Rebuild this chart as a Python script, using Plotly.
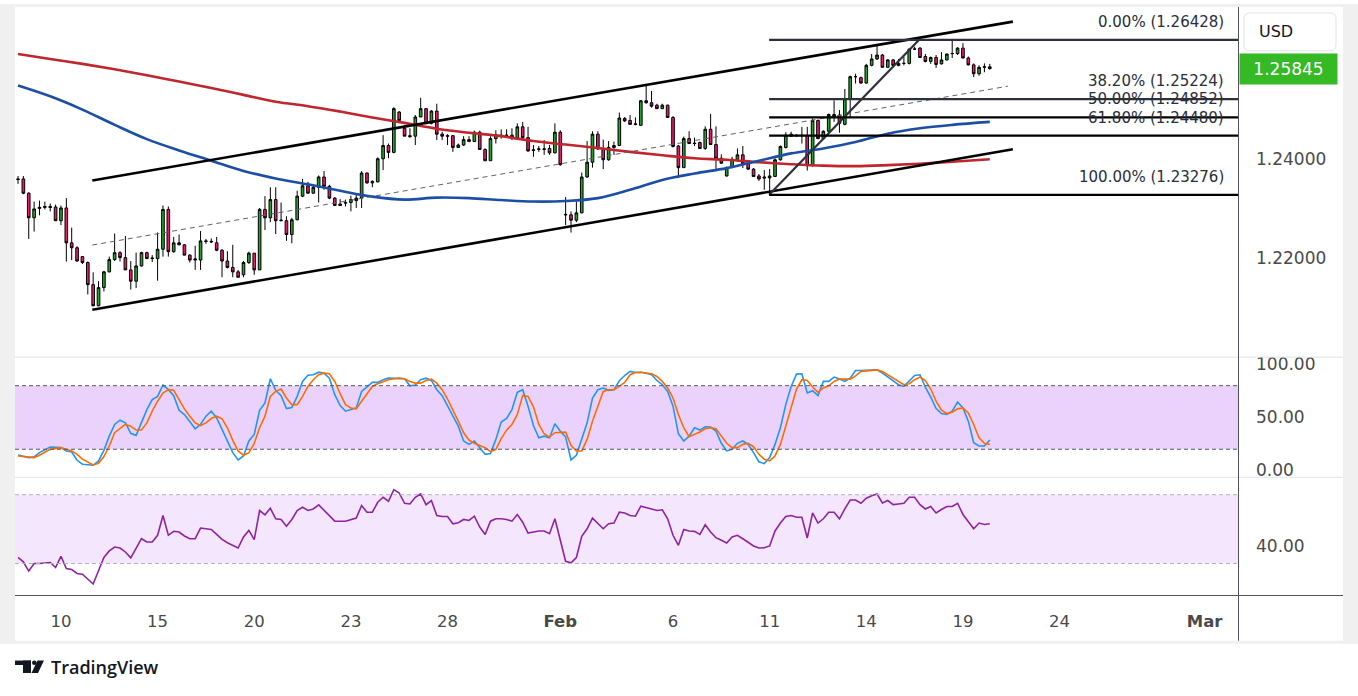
import plotly.graph_objects as go

# ---------------- data (4H candles, index 0 = first visible candle) ----------------
candle_open = [1.2360,1.2360,1.2331,1.2281,1.2300,1.2302,1.2304,1.2303,1.2275,1.2301,
1.2230,1.2220,1.2202,1.2190,1.2145,1.2102,1.2139,1.2171,1.2196,1.2210,
1.2200,1.2175,1.2152,1.2183,1.2210,1.2198,1.2198,1.2217,1.2298,1.2212,
1.2230,1.2226,1.2205,1.2195,1.2195,1.2234,1.2233,1.2230,1.2215,1.2193,
1.2180,1.2171,1.2165,1.2190,1.2209,1.2175,1.2298,1.2281,1.2318,1.2275,
1.2275,1.2247,1.2277,1.2325,1.2346,1.2331,1.2343,1.2364,1.2345,1.2321,
1.2309,1.2312,1.2312,1.2316,1.2321,1.2372,1.2352,1.2354,1.2401,1.2428,
1.2414,1.2496,1.2463,1.2448,1.2447,1.2486,1.2503,1.2473,1.2498,1.2451,
1.2448,1.2448,1.2424,1.2429,1.2440,1.2436,1.2455,1.2420,1.2397,1.2442,
1.2449,1.2448,1.2449,1.2444,1.2466,1.2444,1.2418,1.2420,1.2420,1.2422,
1.2413,1.2455,1.2288,1.2287,1.2276,1.2291,1.2364,1.2394,1.2451,1.2422,
1.2399,1.2424,1.2428,1.2483,1.2479,1.2472,1.2469,1.2519,1.2515,1.2510,
1.2503,1.2510,1.2485,1.2427,1.2383,1.2442,1.2433,1.2434,1.2422,1.2461,
1.2430,1.2402,1.2366,1.2383,1.2400,1.2409,1.2391,1.2380,1.2366,1.2364,
1.2362,1.2365,1.2399,1.2424,1.2447,1.2449,1.2449,1.2449,1.2387,1.2479,
1.2442,1.2457,1.2486,1.2490,1.2471,1.2523,1.2568,1.2566,1.2555,1.2591,
1.2604,1.2612,1.2587,1.2602,1.2591,1.2595,1.2595,1.2624,1.2626,1.2609,
1.2599,1.2607,1.2594,1.2602,1.2615,1.2615,1.2626,1.2606,1.2592,1.2574,
1.2587,1.2588]
candle_high = [1.2366,1.2366,1.2333,1.2314,1.2316,1.2314,1.2310,1.2308,1.2306,1.2321,
1.2261,1.2223,1.2203,1.2192,1.2170,1.2152,1.2173,1.2202,1.2249,1.2213,
1.2244,1.2193,1.2210,1.2212,1.2212,1.2205,1.2251,1.2306,1.2304,1.2242,
1.2247,1.2227,1.2207,1.2224,1.2254,1.2238,1.2239,1.2242,1.2217,1.2213,
1.2226,1.2175,1.2193,1.2212,1.2209,1.2301,1.2325,1.2343,1.2343,1.2312,
1.2284,1.2281,1.2336,1.2360,1.2354,1.2348,1.2367,1.2376,1.2348,1.2323,
1.2319,1.2318,1.2326,1.2328,1.2376,1.2373,1.2357,1.2404,1.2449,1.2432,
1.2506,1.2498,1.2469,1.2463,1.2490,1.2525,1.2504,1.2500,1.2513,1.2456,
1.2451,1.2449,1.2432,1.2447,1.2447,1.2458,1.2458,1.2422,1.2447,1.2459,
1.2461,1.2461,1.2463,1.2473,1.2476,1.2466,1.2429,1.2427,1.2439,1.2429,
1.2473,1.2459,1.2323,1.2294,1.2314,1.2373,1.2437,1.2457,1.2457,1.2440,
1.2437,1.2436,1.2495,1.2486,1.2490,1.2485,1.2520,1.2552,1.2539,1.2513,
1.2513,1.2511,1.2488,1.2429,1.2446,1.2457,1.2444,1.2436,1.2467,1.2492,
1.2467,1.2410,1.2385,1.2405,1.2422,1.2427,1.2395,1.2382,1.2370,1.2378,
1.2380,1.2402,1.2428,1.2455,1.2456,1.2451,1.2466,1.2466,1.2483,1.2481,
1.2459,1.2493,1.2520,1.2500,1.2543,1.2570,1.2574,1.2568,1.2594,1.2614,
1.2631,1.2614,1.2604,1.2604,1.2604,1.2609,1.2626,1.2629,1.2628,1.2614,
1.2609,1.2612,1.2618,1.2615,1.2641,1.2628,1.2636,1.2609,1.2595,1.2591,
1.2595,1.2594]
candle_low = [1.2350,1.2329,1.2238,1.2253,1.2286,1.2298,1.2294,1.2275,1.2266,1.2192,
1.2195,1.2192,1.2187,1.2125,1.2101,1.2101,1.2131,1.2170,1.2193,1.2192,
1.2175,1.2135,1.2138,1.2182,1.2197,1.2191,1.2153,1.2202,1.2202,1.2210,
1.2225,1.2205,1.2190,1.2175,1.2175,1.2228,1.2230,1.2213,1.2160,1.2178,
1.2160,1.2160,1.2160,1.2187,1.2165,1.2175,1.2256,1.2272,1.2248,1.2274,
1.2234,1.2229,1.2276,1.2323,1.2330,1.2330,1.2312,1.2338,1.2319,1.2306,
1.2306,1.2304,1.2294,1.2301,1.2301,1.2350,1.2343,1.2353,1.2378,1.2402,
1.2412,1.2479,1.2447,1.2444,1.2429,1.2486,1.2471,1.2471,1.2439,1.2439,
1.2429,1.2415,1.2424,1.2427,1.2436,1.2435,1.2419,1.2397,1.2397,1.2432,
1.2442,1.2444,1.2439,1.2439,1.2439,1.2415,1.2405,1.2415,1.2409,1.2409,
1.2412,1.2387,1.2266,1.2251,1.2272,1.2290,1.2362,1.2383,1.2419,1.2380,
1.2397,1.2409,1.2427,1.2476,1.2471,1.2469,1.2468,1.2513,1.2505,1.2503,
1.2502,1.2485,1.2424,1.2362,1.2383,1.2432,1.2427,1.2421,1.2419,1.2429,
1.2378,1.2391,1.2365,1.2382,1.2395,1.2382,1.2378,1.2365,1.2356,1.2338,
1.2328,1.2364,1.2397,1.2422,1.2446,1.2446,1.2432,1.2377,1.2385,1.2441,
1.2440,1.2454,1.2476,1.2454,1.2469,1.2486,1.2554,1.2554,1.2554,1.2589,
1.2602,1.2587,1.2587,1.2589,1.2589,1.2591,1.2593,1.2622,1.2606,1.2597,
1.2594,1.2586,1.2593,1.2601,1.2606,1.2612,1.2605,1.2591,1.2567,1.2570,
1.2577,1.2582]
candle_close = [1.2359,1.2331,1.2281,1.2299,1.2302,1.2304,1.2302,1.2275,1.2301,1.2230,
1.2220,1.2193,1.2190,1.2145,1.2102,1.2139,1.2171,1.2196,1.2210,1.2200,
1.2175,1.2152,1.2183,1.2210,1.2198,1.2199,1.2217,1.2298,1.2212,1.2230,
1.2226,1.2205,1.2195,1.2197,1.2234,1.2233,1.2232,1.2215,1.2193,1.2180,
1.2171,1.2160,1.2190,1.2209,1.2175,1.2298,1.2281,1.2318,1.2275,1.2276,
1.2247,1.2277,1.2325,1.2346,1.2331,1.2343,1.2364,1.2345,1.2321,1.2306,
1.2306,1.2311,1.2318,1.2321,1.2372,1.2352,1.2355,1.2401,1.2428,1.2414,
1.2503,1.2479,1.2447,1.2446,1.2486,1.2503,1.2473,1.2498,1.2451,1.2447,
1.2447,1.2424,1.2429,1.2440,1.2436,1.2455,1.2420,1.2397,1.2442,1.2450,
1.2448,1.2449,1.2444,1.2466,1.2444,1.2417,1.2419,1.2421,1.2421,1.2413,
1.2455,1.2389,1.2287,1.2276,1.2291,1.2364,1.2394,1.2451,1.2421,1.2399,
1.2424,1.2428,1.2484,1.2478,1.2471,1.2471,1.2519,1.2515,1.2508,1.2503,
1.2510,1.2485,1.2426,1.2383,1.2442,1.2432,1.2432,1.2422,1.2461,1.2430,
1.2402,1.2392,1.2383,1.2400,1.2409,1.2391,1.2380,1.2365,1.2360,1.2362,
1.2366,1.2399,1.2426,1.2449,1.2451,1.2448,1.2448,1.2387,1.2479,1.2442,
1.2457,1.2491,1.2491,1.2473,1.2523,1.2568,1.2568,1.2555,1.2591,1.2604,
1.2612,1.2587,1.2602,1.2591,1.2595,1.2595,1.2624,1.2624,1.2607,1.2599,
1.2607,1.2593,1.2602,1.2614,1.2615,1.2626,1.2606,1.2592,1.2574,1.2587,
1.2588,1.25845]

# moving averages, read every 6 candles
ma_idx = [0,6,12,18,24,30,36,42,48,54,60,66,72,78,84,90,96,102,108,114,120,126,132,138,144,150,156,162,168,174,181]
ma_red = [1.2614,1.2604,1.2594,1.2583,1.2571,1.2558,1.2545,1.2531,1.2517,1.2508,1.2497,1.2485,1.2474,1.2462,1.2454,1.2447,
          1.2437,1.2430,1.2423,1.2415,1.2408,1.2402,1.2399,1.2394,1.2390,1.2387,1.2386,1.2388,1.2391,1.2395,1.2400]
ma_blue = [1.2550,1.2528,1.2501,1.2470,1.2441,1.2418,1.2397,1.2376,1.2361,1.2349,1.2336,1.2324,1.2318,1.2322,1.2321,1.2317,
           1.2314,1.2315,1.2321,1.2338,1.2358,1.2371,1.2382,1.2397,1.2412,1.2422,1.2435,1.2452,1.2463,1.2470,1.2476]

# stochastic %K / %D and RSI vertices (candle index, value)
stoch_k_idx = [0,2,3,4,6,8,9,10,11,12,14,15,16,17,18,19,20,21,22,23,24,25,26,27,28,29,30,31,32,33,34,35,36,37,38,39,40,41,42,43,44,45,46,47,48,49,50,
 51,52,53,54,55,56,57,58,59,60,61,62,63,64,65,66,67,68,69,70,71,72,73,74,75,76,77,78,79,80,81,82,83,84,85,86,87,88,89,90,91,92,93,94,95,96,97,98,99,100,
 101,102,103,104,105,106,107,108,109,110,111,112,113,114,115,116,117,118,119,120,121,122,123,124,125,126,127,128,129,130,131,132,133,134,135,136,137,138,139,140,
 141,142,143,144,145,146,147,148,149,150,151,152,153,154,155,156,157,158,159,160,161,162,163,164,165,166,167,168,169,170,171,172,173,174,175,176,177,178,179,180,181]
stoch_k = [14.6,12.1,12.8,16.8,22.1,21.5,18.4,17.4,9.6,5.9,4.9,9.0,19.0,32.4,43.4,47.4,45.0,35.0,33.1,44.9,57.4,66.8,69.9,80.6,76.2,70.6,56.8,52.7,46.5,39.3,43.4,51.2,55.9,49.6,38.7,27.8,16.8,9.9,13.7,27.8,34.0,56.8,63.7,86.5,75.6,70.6,58.4,
 59.3,69.9,84.0,89.9,90.3,92.7,91.8,87.1,71.5,61.2,55.9,57.4,59.0,74.6,78.7,83.1,83.1,85.6,87.1,87.1,87.1,86.5,79.9,80.6,85.6,87.1,84.9,76.2,70.6,60.6,51.2,41.8,27.8,24.6,27.8,21.5,15.2,15.9,29.3,45.7,49.0,57.4,73.7,76.2,60.6,42.4,30.9,32.4,30.9,44.0,
 37.1,31.5,9.9,14.3,29.3,44.9,68.4,76.2,77.8,75.6,76.2,84.6,89.6,93.4,92.4,92.7,91.8,90.3,84.9,80.9,74.6,60.6,34.6,27.8,32.4,40.3,38.1,41.2,40.9,37.1,25.6,18.4,19.9,25.6,27.8,24.6,16.8,8.1,6.5,12.1,
 24.6,40.3,62.1,79.3,90.9,91.2,73.1,75.2,70.6,84.0,84.0,88.1,86.2,84.0,87.1,94.3,94.3,94.6,94.9,94.9,91.8,88.1,84.0,80.9,79.3,84.0,89.6,90.3,78.7,69.3,58.4,53.7,52.8,55.9,64.6,59.0,46.5,26.2,23.1,23.1,28.7]

stoch_d_idx = [0,1,3,4,6,8,9,10,11,12,14,15,16,17,18,20,21,22,23,24,25,26,27,28,29,30,31,32,33,34,35,36,37,38,39,40,41,42,43,44,45,46,47,48,49,50,
 51,52,53,54,55,56,57,58,59,60,61,62,63,64,65,66,67,68,69,70,71,72,73,74,75,76,77,78,79,80,81,82,83,84,85,86,87,88,89,90,91,92,93,94,95,96,97,98,99,100,
 101,102,103,104,105,106,107,108,109,110,111,112,113,114,115,116,117,118,119,120,121,122,123,124,125,126,127,128,129,130,131,132,133,134,135,136,137,138,139,140,
 141,142,143,144,145,146,147,148,149,150,151,152,153,154,155,156,157,158,159,160,161,162,163,164,165,166,167,168,169,170,171,172,173,174,175,176,177,178,179,180,181]
stoch_d = [13.7,13.1,12.1,14.3,19.9,21.5,19.9,18.4,15.2,10.6,5.2,6.8,13.1,23.1,35.6,43.4,41.8,38.1,38.1,44.9,55.9,65.3,73.1,76.2,75.6,66.2,58.1,51.2,44.9,42.4,44.9,49.0,51.2,48.7,40.3,28.4,18.4,14.3,16.8,25.6,40.3,51.2,69.9,74.6,76.8,68.4,
 62.1,62.1,69.9,79.3,85.6,90.3,91.8,91.2,84.0,72.4,62.1,59.0,58.1,65.3,72.4,79.3,81.8,84.0,85.6,86.5,87.1,86.5,84.0,82.4,82.4,84.9,86.2,82.4,76.2,67.4,57.4,46.5,35.6,28.7,25.6,23.7,21.5,17.8,19.9,30.0,38.0,43.4,52.8,70.6,69.9,60.0,43.4,34.6,31.5,35.6,
 36.2,36.2,23.7,18.4,18.4,29.3,46.5,60.6,74.6,76.2,76.2,79.3,83.1,90.3,92.4,92.7,91.8,91.2,88.7,84.0,77.8,68.4,52.8,40.3,31.8,34.0,36.2,39.3,40.3,39.3,32.4,25.6,21.5,21.5,24.6,25.6,22.4,15.2,10.6,9.0,
 13.7,24.6,41.8,59.0,76.8,85.6,84.9,78.7,73.7,77.8,79.9,84.0,86.2,86.2,86.2,89.3,93.4,94.0,94.3,94.9,93.4,90.3,87.1,84.0,80.9,81.8,85.6,88.1,84.9,76.8,65.3,56.8,53.7,54.9,58.1,59.0,54.3,43.4,30.9,25.6,24.6]

rsi_idx = [0,1,2,3,4,6,7,8,9,10,11,12,14,15,16,17,18,19,20,21,22,23,24,25,26,27,28,29,30,31,32,33,34,35,36,37,38,39,40,41,42,43,44,45,46,47,48,49,50,
 51,52,53,54,55,56,57,58,59,61,62,63,64,65,66,67,68,69,70,71,72,73,74,75,76,77,78,79,80,81,82,83,84,85,86,87,88,89,90,91,92,93,94,95,96,97,98,99,100,
 101,102,103,104,105,106,107,108,109,110,111,112,113,114,115,116,117,118,119,120,121,122,123,124,125,126,127,128,129,130,131,132,133,134,135,136,137,138,139,140,
 141,142,143,144,145,146,147,148,149,150,151,152,153,154,155,156,157,158,159,160,161,162,163,164,165,166,167,168,169,170,171,172,173,174,175,176,177,178,179,180,181]
rsi = [33.5,31.0,25.6,30.0,30.0,30.6,27.7,34.2,27.1,26.5,24.2,23.8,18.1,26.2,33.5,37.3,39.6,39.0,36.7,33.3,39.0,44.4,42.5,42.5,46.4,57.9,46.4,48.7,48.3,46.0,44.4,44.4,50.6,50.2,49.8,46.9,44.0,42.1,40.6,39.0,45.4,49.2,43.9,60.8,58.3,62.1,56.0,55.6,51.7,
 55.6,60.8,62.7,60.8,61.7,64.1,60.8,57.5,54.6,54.6,55.4,56.4,63.7,59.8,59.8,65.6,68.5,66.2,72.9,71.0,65.0,64.6,68.5,70.4,64.2,66.6,57.9,57.3,57.3,53.1,53.7,55.6,55.0,57.5,51.2,46.9,54.6,56.0,56.0,55.6,54.6,58.5,54.0,47.7,48.3,48.9,48.9,47.3,56.0,
 44.4,31.3,30.4,33.5,45.8,50.2,56.4,53.1,50.2,53.1,53.5,59.8,59.4,57.9,57.5,63.3,62.7,61.7,60.8,61.2,56.0,46.4,40.6,49.8,48.9,48.7,46.9,52.5,48.3,45.0,43.5,41.9,45.4,46.4,44.4,42.1,40.2,39.0,39.2,40.2,
 48.9,53.5,57.3,57.9,56.9,56.9,44.8,59.4,53.5,56.0,59.8,59.8,56.0,61.7,66.9,66.9,65.0,67.9,69.4,70.4,65.2,66.6,64.2,64.6,65.0,68.5,68.5,64.2,61.7,63.1,59.4,61.4,63.1,63.1,65.0,58.5,54.0,50.2,53.5,52.7,53.1]

# drawings: channel (anchor index, price), fibonacci retracement
channel_x = [13.84, 185.3]
channel_upper = [1.23568, 1.26800]
channel_lower = [1.20941, 1.24202]
channel_mid_x = [13.84, 184.4]
channel_mid = [1.22255, 1.25487]
fib_x = [139.9, 167.8]
fib_prices = [1.26428, 1.25224, 1.24852, 1.24480, 1.23276]
fib_labels = ["0.00% (1.26428)", "38.20% (1.25224)", "50.00% (1.24852)", "61.80% (1.24480)", "100.00% (1.23276)"]
last_price = 1.25845

tick_idx = [8, 26, 44, 62, 80, 101, 122, 140, 158, 176, 194, 221]
tick_text = ["10", "15", "20", "23", "28", "<b>Feb</b>", "6", "11", "14", "19", "24", "<b>Mar</b>"]

# ---------------- layout helpers ----------------
W, H = 1358, 696
L, R, T, B = 15, 1238, 3, 595
def px(x):
    return (x - L) / (R - L)
def py(y):
    return (B - y) / (B - T)

X_RANGE = [-0.56, 227.23]
PRICE_RANGE = [1.19996, 1.27097]
FONT = "DejaVu Sans"
GREEN = "#22A22A"
PINK = "#EC1A6E"

fig = go.Figure()

fig.add_trace(go.Scatter(x=ma_idx, y=ma_red, mode="lines", line=dict(color="#C0262D", width=2.6, shape="spline"),
                         xaxis="x", yaxis="y", hoverinfo="skip", showlegend=False))
fig.add_trace(go.Scatter(x=ma_idx, y=ma_blue, mode="lines", line=dict(color="#1B4FA6", width=2.6, shape="spline"),
                         xaxis="x", yaxis="y", hoverinfo="skip", showlegend=False))

idx = list(range(len(candle_open)))
fig.add_trace(go.Candlestick(
    x=idx, open=candle_open, high=candle_high, low=candle_low, close=candle_close,
    increasing=dict(fillcolor=GREEN, line=dict(color="#000000", width=1)),
    decreasing=dict(fillcolor=PINK, line=dict(color="#000000", width=1)),
    whiskerwidth=0, xaxis="x", yaxis="y", hoverinfo="skip", showlegend=False))

# channel
for yy in (channel_upper, channel_lower):
    fig.add_trace(go.Scatter(x=channel_x, y=yy, mode="lines", line=dict(color="#000000", width=2.6),
                             xaxis="x", yaxis="y", hoverinfo="skip", showlegend=False))
fig.add_trace(go.Scatter(x=channel_mid_x, y=channel_mid, mode="lines", line=dict(color="#5F626C", width=1, dash="5px,4px"),
                         xaxis="x", yaxis="y", hoverinfo="skip", showlegend=False))

# fib diagonal
fig.add_trace(go.Scatter(x=fib_x, y=[fib_prices[-1], fib_prices[0]], mode="lines", line=dict(color="#2E313B", width=2.2),
                         xaxis="x", yaxis="y", hoverinfo="skip", showlegend=False))

# stochastic
fig.add_trace(go.Scatter(x=stoch_k_idx, y=stoch_k, mode="lines", line=dict(color="#2196F3", width=1.6),
                         xaxis="x", yaxis="y2", hoverinfo="skip", showlegend=False))
fig.add_trace(go.Scatter(x=stoch_d_idx, y=stoch_d, mode="lines", line=dict(color="#FF6D00", width=1.6),
                         xaxis="x", yaxis="y2", hoverinfo="skip", showlegend=False))
# RSI
fig.add_trace(go.Scatter(x=rsi_idx, y=rsi, mode="lines", line=dict(color="#8E24A0", width=1.6),
                         xaxis="x", yaxis="y3", hoverinfo="skip", showlegend=False))

shapes = []
# bands
shapes.append(dict(type="rect", xref="paper", yref="y2", x0=0, x1=1, y0=20, y1=80, fillcolor="#EAD2FC", line=dict(width=0), layer="below"))
shapes.append(dict(type="rect", xref="paper", yref="y3", x0=0, x1=1, y0=30, y1=70, fillcolor="#F4E6FD", line=dict(width=0), layer="below"))
for v in (80, 20):
    shapes.append(dict(type="line", xref="paper", yref="y2", x0=0, x1=1, y0=v, y1=v, line=dict(color="#55575F", width=1, dash="4px,3px")))
for v in (70, 30):
    shapes.append(dict(type="line", xref="paper", yref="y3", x0=0, x1=1, y0=v, y1=v, line=dict(color="#B2B5BE", width=1, dash="4px,3px")))
# fib horizontals
fib_colors = ["#2E313B", "#2E313B", "#000000", "#000000", "#000000"]
for p, c in zip(fib_prices, fib_colors):
    shapes.append(dict(type="line", xref="x", yref="y", x0=fib_x[0], x1=X_RANGE[1], y0=p, y1=p, line=dict(color=c, width=2.2)))

# frame / separators
FRAME = "#F0F0F0"
shapes.append(dict(type="rect", xref="paper", yref="paper", x0=px(0), x1=px(15), y0=py(644), y1=py(0), fillcolor=FRAME, line=dict(width=0)))
shapes.append(dict(type="rect", xref="paper", yref="paper", x0=px(1343), x1=px(1358), y0=py(644), y1=py(0), fillcolor=FRAME, line=dict(width=0)))
shapes.append(dict(type="rect", xref="paper", yref="paper", x0=px(0), x1=px(1358), y0=py(3), y1=py(0), fillcolor=FRAME, line=dict(width=0)))
shapes.append(dict(type="rect", xref="paper", yref="paper", x0=px(0), x1=px(1358), y0=py(644), y1=py(641), fillcolor=FRAME, line=dict(width=0)))
for ysep in (355.5, 476.5):
    shapes.append(dict(type="line", xref="paper", yref="paper", x0=px(15), x1=px(1343), y0=py(ysep), y1=py(ysep), line=dict(color="#E0E3EB", width=1)))
shapes.append(dict(type="line", xref="paper", yref="paper", x0=px(15), x1=px(1343), y0=py(595.5), y1=py(595.5), line=dict(color="#50535E", width=1)))
shapes.append(dict(type="line", xref="paper", yref="paper", x0=px(1238.5), x1=px(1238.5), y0=py(641), y1=py(3), line=dict(color="#50535E", width=1)))

# USD box (rounded)
bx0, bx1, by0, by1, r = px(1244), px(1336), py(47), py(9), 6
rx, ry = r / (R - L), r / (B - T)
path = (f"M {bx0+rx},{by1} L {bx1-rx},{by1} Q {bx1},{by1} {bx1},{by1-ry} L {bx1},{by0+ry} Q {bx1},{by0} {bx1-rx},{by0} "
        f"L {bx0+rx},{by0} Q {bx0},{by0} {bx0},{by0+ry} L {bx0},{by1-ry} Q {bx0},{by1} {bx0+rx},{by1} Z")
shapes.append(dict(type="path", xref="paper", yref="paper", path=path, fillcolor="#FFFFFF", line=dict(color="#E0E3EB", width=1)))

# TradingView logo glyph
shapes.append(dict(type="rect", xref="paper", yref="paper", x0=px(15), x1=px(31), y0=py(665.5), y1=py(661), fillcolor="#131722", line=dict(width=0)))
shapes.append(dict(type="rect", xref="paper", yref="paper", x0=px(23), x1=px(31), y0=py(673.5), y1=py(661), fillcolor="#131722", line=dict(width=0)))
shapes.append(dict(type="circle", xref="paper", yref="paper", x0=px(32), x1=px(36.6), y0=py(665.6), y1=py(661), fillcolor="#131722", line=dict(width=0)))
shapes.append(dict(type="path", xref="paper", yref="paper",
                   path=f"M {px(37.5)},{py(661)} L {px(44)},{py(661)} L {px(38)},{py(673.5)} L {px(31.5)},{py(673.5)} Z",
                   fillcolor="#131722", line=dict(width=0)))

annotations = []
for p, t in zip(fib_prices, fib_labels):
    annotations.append(dict(xref="paper", yref="y", x=px(1226), y=p, xanchor="right", yanchor="middle", yshift=18,
                            text=t, showarrow=False, font=dict(family=FONT, size=15, color="#2A2E39")))
annotations.append(dict(xref="paper", yref="y", x=px(1239), y=last_price, xanchor="left", yanchor="middle",
                        text="1.25845", showarrow=False, bgcolor="#35B924", width=97, height=30, borderpad=0,
                        font=dict(family=FONT, size=17, color="#FFFFFF")))
annotations.append(dict(xref="paper", yref="paper", x=px(1257), y=py(28), xanchor="left", yanchor="middle",
                        text="USD", showarrow=False, font=dict(family=FONT, size=16, color="#131722")))
annotations.append(dict(xref="paper", yref="paper", x=px(49), y=py(667.5), xanchor="left", yanchor="middle",
                        text="TradingView", showarrow=False, font=dict(family="Open Sans", size=18, color="#131722", weight=600)))

axis_font = dict(family=FONT, size=16.5, color="#4A4A4A")
fig.update_layout(
    width=W, height=H,
    margin=dict(l=L, r=W - R, t=T, b=H - B),
    paper_bgcolor="#FFFFFF", plot_bgcolor="#FFFFFF",
    hovermode=False, showlegend=False, dragmode=False,
    xaxis=dict(range=X_RANGE, anchor="y3", tickmode="array", tickvals=tick_idx, ticktext=tick_text,
               showgrid=False, zeroline=False, showline=False, ticks="", tickfont=axis_font,
               ticklabelstandoff=14, rangeslider=dict(visible=False), fixedrange=True),
    yaxis=dict(domain=[py(354.5), 1], range=PRICE_RANGE, side="right", anchor="x",
               tickmode="array", tickvals=[1.22, 1.24], ticktext=["1.22000", "1.24000"],
               showgrid=False, zeroline=False, ticks="", tickfont=dict(family=FONT, size=17, color="#4A4A4A"),
               ticklabelstandoff=17, fixedrange=True),
    yaxis2=dict(domain=[py(476), py(356.5)], range=[-6.0, 106.0], side="right", anchor="x",
                tickmode="array", tickvals=[100, 50, 0], ticktext=["100.00", "50.00", "0.00"],
                showgrid=False, zeroline=False, ticks="", tickfont=dict(family=FONT, size=17, color="#4A4A4A"),
                ticklabelstandoff=17, fixedrange=True),
    yaxis3=dict(domain=[0, py(477)], range=[11.70, 79.81], side="right", anchor="x",
                tickmode="array", tickvals=[40], ticktext=["40.00"],
                showgrid=False, zeroline=False, ticks="", tickfont=dict(family=FONT, size=17, color="#4A4A4A"),
                ticklabelstandoff=17, fixedrange=True),
    shapes=shapes, annotations=annotations,
    boxgap=0.3,
)

fig.write_html("out.html", config={"displayModeBar": False, "staticPlot": True},
               post_script="document.body.style.margin='0px';document.body.style.overflow='hidden';")
